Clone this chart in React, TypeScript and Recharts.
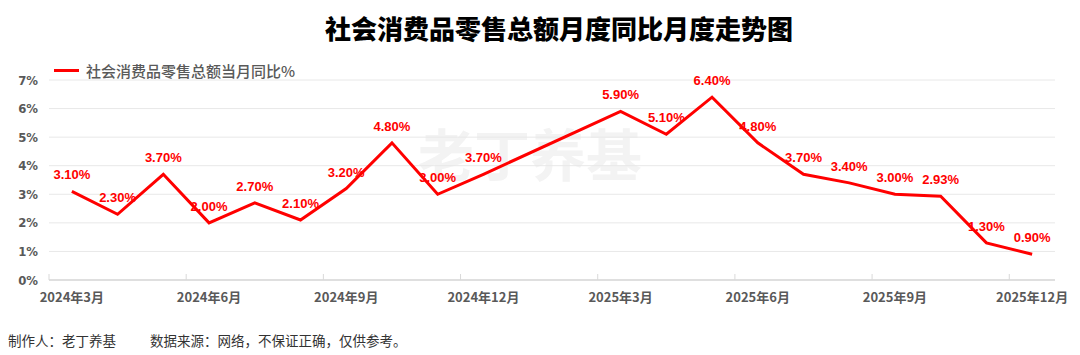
import React from 'react';
import { ComposedChart, Line, XAxis, YAxis, CartesianGrid, LabelList } from 'recharts';

const months = [
  '2024年3月', '2024年4月', '2024年5月', '2024年6月', '2024年7月', '2024年8月',
  '2024年9月', '2024年10月', '2024年11月', '2024年12月',
  '2025年1月', '2025年2月', '2025年3月', '2025年4月', '2025年5月', '2025年6月',
  '2025年7月', '2025年8月', '2025年9月', '2025年10月', '2025年11月', '2025年12月',
];
const yoyValues: (number | null)[] = [
  3.1, 2.3, 3.7, 2.0, 2.7, 2.1, 3.2, 4.8, 3.0, 3.7,
  null, null, 5.9, 5.1, 6.4, 4.8, 3.7, 3.4, 3.0, 2.93, 1.3, 0.9,
];
const yTicks = [0, 1, 2, 3, 4, 5, 6, 7];
const seriesName = '社会消费品零售总额当月同比%';
const titleText = '社会消费品零售总额月度同比月度走势图';
const footerAuthor = '制作人：老丁养基';
const footerSource = '数据来源：网络，不保证正确，仅供参考。';
const watermark = '老丁养基';

const data = months.map((m, i) => ({ month: m, yoy: yoyValues[i] }));

const CHART_W = 1080;
const CHART_H = 355;
const MARGIN = { top: 80, right: 25, bottom: 0, left: 0 };
const Y_W = 49;
const X_H = 75;
const BAND = (CHART_W - MARGIN.left - MARGIN.right - Y_W) / months.length;

const CJK = "'Noto Sans CJK SC', 'Noto Sans', sans-serif";

const MonthTick = (props: any) => {
  const { x, y, payload } = props;
  const bx = x - BAND / 2;
  return (
    <g>
      <line x1={bx} x2={bx} y1={y - 6} y2={y} stroke="#d9d9d9" strokeWidth={1} />
      <text
        x={x}
        y={y + 22}
        textAnchor="middle"
        fill="#595959"
        fontSize={13}
        fontWeight="bold"
        fontFamily={CJK}
      >
        {payload.value}
      </text>
    </g>
  );
};

const renderLabel = (p: any) => {
  if (p.value == null || p.x == null || p.y == null) return null;
  return (
    <text
      x={p.x}
      y={p.y - 12}
      textAnchor="middle"
      fill="#ff0000"
      fontSize={13}
      fontWeight="bold"
      fontFamily="'Liberation Sans', Arial, sans-serif"
    >
      {Number(p.value).toFixed(2)}%
    </text>
  );
};

export default function App() {
  return (
    <div
      style={{
        position: 'absolute',
        left: 0,
        top: 0,
        width: CHART_W,
        height: CHART_H,
        background: '#ffffff',
        overflow: 'hidden',
        fontFamily: CJK,
      }}
    >
      <div
        style={{
          position: 'absolute',
          left: 418,
          top: 124,
          fontSize: 56,
          lineHeight: '56px',
          fontWeight: 'bold',
          color: '#f3f3f3',
          whiteSpace: 'nowrap',
        }}
      >
        {watermark}
      </div>
      <div
        style={{
          position: 'absolute',
          left: 325,
          top: 15,
          fontSize: 26,
          lineHeight: '26px',
          fontWeight: 900,
          color: '#000000',
          whiteSpace: 'nowrap',
        }}
      >
        {titleText}
      </div>
      <div
        style={{
          position: 'absolute',
          left: 54,
          top: 69,
          width: 25,
          height: 3,
          background: '#ff0000',
        }}
      />
      <div
        style={{
          position: 'absolute',
          left: 86,
          top: 63,
          fontSize: 15,
          lineHeight: '16px',
          fontWeight: 500,
          color: '#595959',
          whiteSpace: 'nowrap',
        }}
      >
        {seriesName}
      </div>
      <div style={{ position: 'absolute', left: 0, top: 0 }}>
        <ComposedChart width={CHART_W} height={CHART_H} data={data} margin={MARGIN}>
          <CartesianGrid vertical={false} stroke="#e8e8e8" strokeWidth={1} />
          <XAxis
            dataKey="month"
            scale="band"
            interval={2}
            height={X_H}
            tickLine={false}
            tickSize={0}
            tickMargin={0}
            axisLine={{ stroke: '#d9d9d9', strokeWidth: 1.5 }}
            tick={<MonthTick />}
          />
          <YAxis
            type="number"
            domain={[0, 7]}
            ticks={yTicks}
            width={Y_W}
            axisLine={false}
            tickLine={false}
            tickMargin={5}
            tickFormatter={(v: number) => `${v}%`}
            tick={{
              fill: '#595959',
              fontSize: 13,
              fontWeight: 'bold',
              fontFamily: "'Liberation Sans Narrow', 'DejaVu Sans Condensed', sans-serif",
            }}
          />
          <Line
            type="linear"
            dataKey="yoy"
            name={seriesName}
            stroke="#ff0000"
            strokeWidth={3}
            dot={false}
            activeDot={false}
            connectNulls
            isAnimationActive={false}
          >
            <LabelList dataKey="yoy" content={renderLabel} />
          </Line>
        </ComposedChart>
      </div>
      <div
        style={{
          position: 'absolute',
          left: 8,
          top: 333,
          fontSize: 13.5,
          lineHeight: '15px',
          color: '#333333',
          whiteSpace: 'nowrap',
        }}
      >
        {footerAuthor}
      </div>
      <div
        style={{
          position: 'absolute',
          left: 150,
          top: 333,
          fontSize: 13.5,
          lineHeight: '15px',
          color: '#333333',
          whiteSpace: 'nowrap',
        }}
      >
        {footerSource}
      </div>
    </div>
  );
}
